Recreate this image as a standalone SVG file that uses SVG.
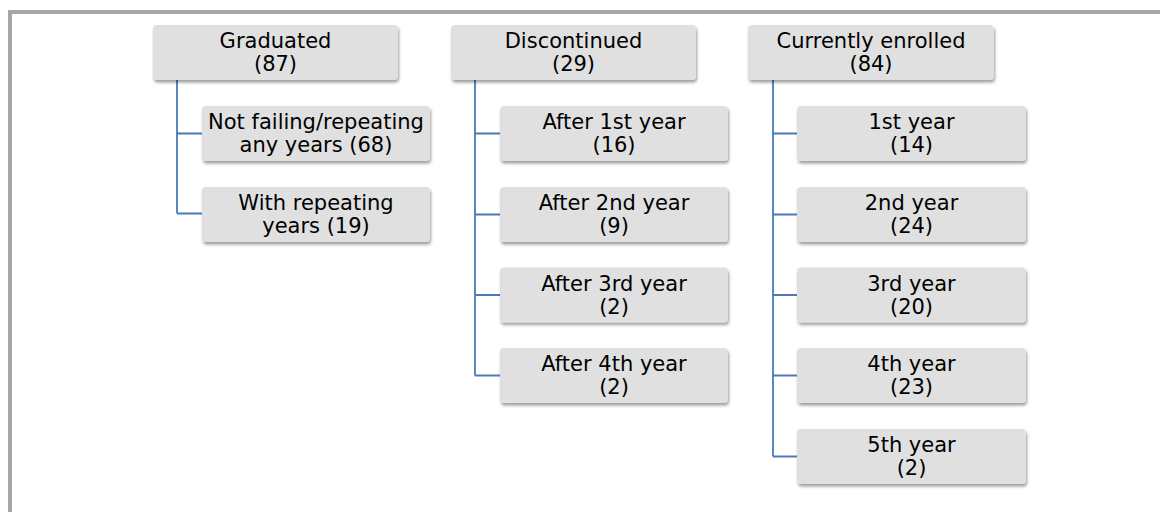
<svg xmlns="http://www.w3.org/2000/svg" width="1160" height="512" viewBox="0 0 1160 512">
  <defs>
    <filter id="shadow" x="-10%" y="-20%" width="120%" height="150%">
      <feDropShadow dx="1" dy="2.5" stdDeviation="1.8" flood-color="#000" flood-opacity="0.38"/>
    </filter>
  </defs>
  <style>
    .box { fill: #e0e0e0; filter: url(#shadow); }
    .lbl { font-family: "DejaVu Sans", Verdana, sans-serif; font-size: 21px; fill: #000; text-anchor: middle; }
    .conn { fill: none; stroke: #4a7ab8; stroke-width: 1.8; }
    .frame { fill: none; stroke: #a6a6a6; stroke-width: 4; }
  </style>

  <rect width="1160" height="512" fill="#fff"/>
  <!-- outer frame: top and left edges -->
  <path class="frame" d="M10,512 V12 H1160"/>

  <!-- connectors -->
  <g id="connectors">
    <path class="conn" d="M177,80 V213.5 M177,133.5 H202 M177,213.5 H202"/>
    <path class="conn" d="M475,80 V375.5 M475,133.5 H500 M475,214.5 H500 M475,295 H500 M475,375.5 H500"/>
    <path class="conn" d="M773,80 V456.5 M773,133.5 H797 M773,214.5 H797 M773,295 H797 M773,375.5 H797 M773,456.5 H797"/>
  </g>

  <!-- Graduated branch -->
  <g id="graduated">
    <rect class="box" x="153" y="25" width="245" height="55" rx="4"/>
    <text class="lbl" x="275.5" y="48">Graduated</text>
    <text class="lbl" x="275.5" y="71">(87)</text>
  </g>
  <g id="grad-not-failing">
    <rect class="box" x="202" y="106" width="228" height="55" rx="4"/>
    <text class="lbl" x="316" y="129">Not failing/repeating</text>
    <text class="lbl" x="316" y="152">any years (68)</text>
  </g>
  <g id="grad-repeating">
    <rect class="box" x="202" y="187" width="228" height="55" rx="4"/>
    <text class="lbl" x="316" y="210">With repeating</text>
    <text class="lbl" x="316" y="233">years (19)</text>
  </g>

  <!-- Discontinued branch -->
  <g id="discontinued">
    <rect class="box" x="451" y="25" width="245" height="55" rx="4"/>
    <text class="lbl" x="573.5" y="48">Discontinued</text>
    <text class="lbl" x="573.5" y="71">(29)</text>
  </g>
  <g id="disc-1">
    <rect class="box" x="500" y="106" width="228" height="55" rx="4"/>
    <text class="lbl" x="614" y="129">After 1st year</text>
    <text class="lbl" x="614" y="152">(16)</text>
  </g>
  <g id="disc-2">
    <rect class="box" x="500" y="187" width="228" height="55" rx="4"/>
    <text class="lbl" x="614" y="210">After 2nd year</text>
    <text class="lbl" x="614" y="233">(9)</text>
  </g>
  <g id="disc-3">
    <rect class="box" x="500" y="267.5" width="228" height="55" rx="4"/>
    <text class="lbl" x="614" y="290.5">After 3rd year</text>
    <text class="lbl" x="614" y="313.5">(2)</text>
  </g>
  <g id="disc-4">
    <rect class="box" x="500" y="348" width="228" height="55" rx="4"/>
    <text class="lbl" x="614" y="371">After 4th year</text>
    <text class="lbl" x="614" y="394">(2)</text>
  </g>

  <!-- Currently enrolled branch -->
  <g id="enrolled">
    <rect class="box" x="748" y="25" width="246" height="55" rx="4"/>
    <text class="lbl" x="871" y="48">Currently enrolled</text>
    <text class="lbl" x="871" y="71">(84)</text>
  </g>
  <g id="enr-1">
    <rect class="box" x="797" y="106" width="229" height="55" rx="4"/>
    <text class="lbl" x="911.5" y="129">1st year</text>
    <text class="lbl" x="911.5" y="152">(14)</text>
  </g>
  <g id="enr-2">
    <rect class="box" x="797" y="187" width="229" height="55" rx="4"/>
    <text class="lbl" x="911.5" y="210">2nd year</text>
    <text class="lbl" x="911.5" y="233">(24)</text>
  </g>
  <g id="enr-3">
    <rect class="box" x="797" y="267.5" width="229" height="55" rx="4"/>
    <text class="lbl" x="911.5" y="290.5">3rd year</text>
    <text class="lbl" x="911.5" y="313.5">(20)</text>
  </g>
  <g id="enr-4">
    <rect class="box" x="797" y="348" width="229" height="55" rx="4"/>
    <text class="lbl" x="911.5" y="371">4th year</text>
    <text class="lbl" x="911.5" y="394">(23)</text>
  </g>
  <g id="enr-5">
    <rect class="box" x="797" y="429" width="229" height="55" rx="4"/>
    <text class="lbl" x="911.5" y="452">5th year</text>
    <text class="lbl" x="911.5" y="475">(2)</text>
  </g>
</svg>
